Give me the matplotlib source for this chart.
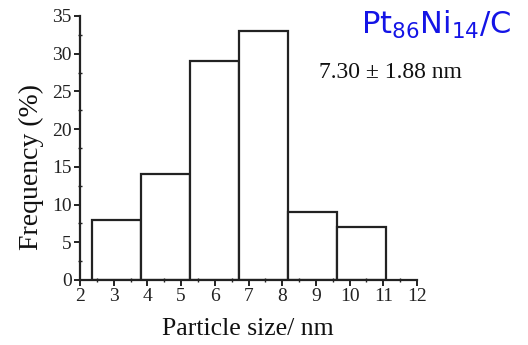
import matplotlib
matplotlib.use("Agg")
import matplotlib.pyplot as plt
import numpy as np
from matplotlib.ticker import MultipleLocator

# Particle size histogram (bin edges in nm, frequency in %)
bin_edges = [2.36, 3.81, 5.26, 6.72, 8.17, 9.63, 11.08]
frequency = [8, 14, 29, 33, 9, 7]
x_ticks = [2, 3, 4, 5, 6, 7, 8, 9, 10, 11, 12]
y_ticks = [0, 5, 10, 15, 20, 25, 30, 35]
sample_label = r"Pt$_{86}$Ni$_{14}$/C"
size_label = "7.30 ± 1.88 nm"

plt.rcParams["font.family"] = ["Liberation Serif", "DejaVu Serif"]

W, H = 528, 345
fig = plt.figure(figsize=(W / 100, H / 100), dpi=100)
ax = fig.add_axes([80 / W, 1 - 280 / H, (417 - 80) / W, (280 - 16) / H])

edges = np.array(bin_edges)
widths = np.diff(edges)
ax.bar(edges[:-1], frequency, width=widths, align="edge",
       facecolor="white", edgecolor="#222222", linewidth=1.6)

ax.set_xlim(2, 12)
ax.set_ylim(0, 35)
ax.set_xticks(x_ticks)
ax.set_yticks(y_ticks)
ax.xaxis.set_minor_locator(MultipleLocator(0.5))
ax.yaxis.set_minor_locator(MultipleLocator(2.5))

for s in ("top", "right"):
    ax.spines[s].set_visible(False)
for s in ("left", "bottom"):
    ax.spines[s].set_linewidth(1.6)
    ax.spines[s].set_color("#222222")

ax.tick_params(which="major", direction="out", length=4, width=1.4,
               labelsize=14, pad=2, colors="#222222")
ax.tick_params(which="minor", direction="inout", length=3, width=1.0,
               colors="#222222")

# axis titles placed in figure pixels
fig.text(247.5 / W, 1 - 335 / H, "Particle size/ nm", fontsize=18.5,
         ha="center", va="baseline", color="#111111")
fig.text(31 / W, 1 - 167 / H, "Frequency (%)", fontsize=20, rotation=90,
         ha="center", va="center", color="#111111")

fig.text(436 / W, 1 - 34 / H, sample_label, color="#1414e6",
         fontsize=22, family="DejaVu Sans", va="baseline", ha="center")
fig.text(390 / W, 1 - 72 / H, size_label, color="#111111",
         fontsize=17, va="center", ha="center")

fig.savefig("out.png", dpi=100)
